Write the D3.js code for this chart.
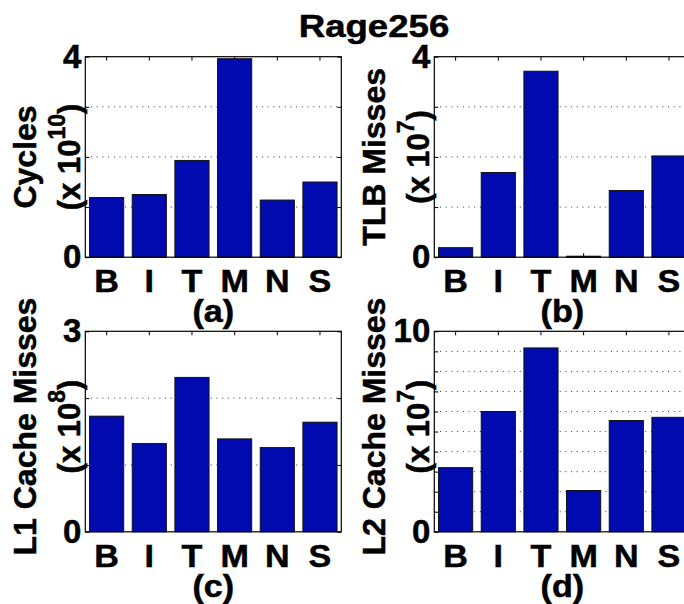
<!DOCTYPE html>
<html>
<head>
<meta charset="utf-8">
<script src="https://cdn.jsdelivr.net/npm/d3@7"></script>
<style>
  body { margin: 0; background: #fff; }
  text { font-family: "Liberation Sans", Arial, sans-serif; font-weight: bold; fill: #000;
         stroke: #000; stroke-width: 0.5px; }
</style>
</head>
<body>
<svg id="chart" width="684" height="604"></svg>
<script>
// data
var title = "Rage256";
var categories = ["B", "I", "T", "M", "N", "S"];
var cyclesValues = [1.19, 1.25, 1.93, 3.96, 1.14, 1.50];   // x 10^10
var tlbValues    = [0.19, 1.69, 3.71, 0.02, 1.33, 2.02];   // x 10^7
var l1Values     = [1.73, 1.32, 2.31, 1.39, 1.26, 1.64];   // x 10^8
var l2Values     = [3.20, 6.00, 9.17, 2.06, 5.55, 5.71];   // x 10^7
var yLabels   = ["Cycles", "TLB Misses", "L1 Cache Misses", "L2 Cache Misses"];
var yExponent = ["10", "7", "8", "7"];
var yMax      = [4, 4, 3, 10];
var panelLabels = ["(a)", "(b)", "(c)", "(d)"];

var svg = d3.select("#chart");
var W = 256, H = 200.5;
var lefts = [85.3, 434.3, 85.3, 434.3];
var tops  = [56.7, 56.7, 331.3, 331.3];
var labelShift = [0, 0, -5, -5];
var series = [cyclesValues, tlbValues, l1Values, l2Values];
var barColor = "#000AAF";
var fontFam = "'Liberation Sans', Arial, sans-serif";

// title
svg.append("text")
    .attr("transform", "translate(374,36.7) scale(1.18,1)")
    .attr("text-anchor", "middle")
    .style("font-size", "31px")
    .text(title);

for (var k = 0; k < 4; k++) {
    drawPanel(k);
}

function drawPanel(k) {
    var data = series[k];
    var g = svg.append("g")
        .attr("transform", "translate(" + lefts[k] + "," + tops[k] + ")");

    var x = d3.scaleBand()
        .domain(categories)
        .range([0, W])
        .paddingInner(0.2)
        .paddingOuter(0.1);

    var y = d3.scaleLinear()
        .domain([0, yMax[k]])
        .range([H, 0]);

    // dotted grid
    g.selectAll(".grid")
        .data(d3.range(1, yMax[k]))
        .enter().append("line")
        .attr("x1", 0).attr("x2", W)
        .attr("y1", d => y(d)).attr("y2", d => y(d))
        .style("stroke", "#333")
        .style("stroke-width", 1)
        .style("stroke-dasharray", "1,4.7");

    // inward ticks, top and right
    g.append("g")
        .call(d3.axisTop(x).tickSize(-4).tickFormat(""))
        .call(a => a.select(".domain").remove());
    g.append("g")
        .attr("transform", "translate(" + W + ",0)")
        .call(d3.axisRight(y).tickValues(d3.range(0, yMax[k] + 1)).tickSize(-4).tickFormat(""))
        .call(a => a.select(".domain").remove());

    // left axis, only end labels
    var yAx = g.append("g")
        .call(d3.axisLeft(y)
            .tickValues(d3.range(0, yMax[k] + 1))
            .tickSize(-4)
            .tickPadding(4)
            .tickFormat(d => (d === 0 || d === yMax[k]) ? d : ""));
    yAx.select(".domain").remove();
    yAx.selectAll("text")
        .style("font-size", "33px")
        .style("font-family", fontFam)
        .style("font-weight", "bold");

    // bottom axis with category labels
    var xAx = g.append("g")
        .attr("transform", "translate(0," + H + ")")
        .call(d3.axisBottom(x).tickSize(-4).tickPadding(13));
    xAx.select(".domain").remove();
    xAx.selectAll("text")
        .attr("transform", "scale(1.1,1)")
        .style("font-size", "31px")
        .style("font-family", fontFam)
        .style("font-weight", "bold");

    // bars
    g.selectAll(".bar")
        .data(data)
        .enter().append("rect")
        .attr("class", "bar")
        .attr("x", (d, i) => x(categories[i]))
        .attr("width", x.bandwidth())
        .attr("y", d => y(d))
        .attr("height", d => H - y(d))
        .style("fill", barColor)
        .style("stroke", "#111")
        .style("stroke-width", 1);

    // box
    g.append("rect")
        .attr("width", W).attr("height", H)
        .style("fill", "none")
        .style("stroke", "#000")
        .style("stroke-width", 1.2);

    // subplot label
    g.append("text")
        .attr("transform", "translate(" + (W / 2) + "," + (H + 65) + ") scale(1.1,1)")
        .attr("text-anchor", "middle")
        .style("font-size", "31px")
        .text(panelLabels[k]);

    // y label, two lines
    var cy = H / 2 + labelShift[k];
    g.append("text")
        .attr("transform", "translate(-49.5," + cy + ") rotate(-90)")
        .attr("text-anchor", "middle")
        .style("font-size", "32px")
        .text(yLabels[k]);

    var l2 = g.append("text")
        .attr("transform", "translate(-5," + cy + ") rotate(-90)")
        .attr("text-anchor", "middle")
        .style("font-size", "31px");
    l2.append("tspan").text("(x 10");
    l2.append("tspan").attr("dy", -15).style("font-size", "23px").text(yExponent[k]);
    l2.append("tspan").attr("dy", 15).text(")");
}
</script>
</body>
</html>
